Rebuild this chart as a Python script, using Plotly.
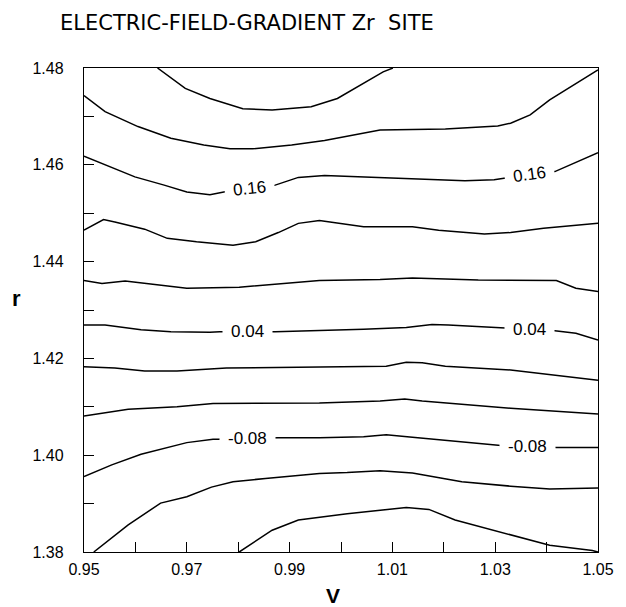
import plotly.graph_objects as go

# Contour levels of the electric-field gradient, top line to bottom line
levels = [0.24, 0.20, 0.16, 0.12, 0.08, 0.04, 0.00, -0.04, -0.08, -0.12, -0.16]

# Traced contour paths: volume ratio V and radius ratio r for each level
V_024 = [0.9643, 0.9697, 0.9745, 0.9809, 0.9866, 0.9942, 0.9993, 1.0050, 1.0082, 1.0101]
r_024 = [1.4800, 1.4758, 1.4737, 1.4716, 1.4713, 1.4720, 1.4737, 1.4772, 1.4792, 1.4800]

V_020 = [0.9500, 0.9541, 0.9605, 0.9669, 0.9733, 0.9784, 0.9828, 0.9904, 0.9968, 1.0076,
         1.0203, 1.0305, 1.0330, 1.0368, 1.0406, 1.0457, 1.0500]
r_020 = [1.4743, 1.4710, 1.4679, 1.4655, 1.4641, 1.4633, 1.4633, 1.4641, 1.4650, 1.4672,
         1.4674, 1.4680, 1.4686, 1.4703, 1.4734, 1.4768, 1.4796]

V_016 = [0.9500, 0.9541, 0.9599, 0.9656, 0.9700, 0.9745, 0.9777, 0.9872, 0.9917, 0.9968,
         1.0076, 1.0241, 1.0298, 1.0317, 1.0416, 1.0500]
r_016 = [1.4618, 1.4600, 1.4575, 1.4558, 1.4544, 1.4538, 1.4545, 1.4558, 1.4574, 1.4578,
         1.4574, 1.4567, 1.4569, 1.4572, 1.4586, 1.4625]

V_012 = [0.9500, 0.9538, 0.9560, 0.9618, 0.9662, 0.9719, 0.9790, 0.9834, 0.9878, 0.9917,
         0.9958, 1.0044, 1.0139, 1.0190, 1.0279, 1.0330, 1.0394, 1.0500]
r_012 = [1.4465, 1.4487, 1.4482, 1.4467, 1.4448, 1.4441, 1.4434, 1.4441, 1.4460, 1.4479,
         1.4485, 1.4472, 1.4472, 1.4465, 1.4457, 1.4460, 1.4469, 1.4479]

V_008 = [0.9500, 0.9535, 0.9580, 0.9700, 0.9802, 0.9958, 1.0076, 1.0139, 1.0267, 1.0419,
         1.0457, 1.0500]
r_008 = [1.4361, 1.4355, 1.4360, 1.4345, 1.4347, 1.4361, 1.4363, 1.4366, 1.4362, 1.4361,
         1.4345, 1.4338]

V_004 = [0.9500, 0.9541, 0.9611, 0.9669, 0.9745, 0.9764, 0.9872, 0.9958, 1.0044, 1.0127,
         1.0177, 1.0209, 1.0317, 1.0416, 1.0457, 1.0500]
r_004 = [1.4269, 1.4269, 1.4259, 1.4255, 1.4254, 1.4255, 1.4255, 1.4257, 1.4260, 1.4264,
         1.4270, 1.4269, 1.4262, 1.4257, 1.4252, 1.4238]

V_000 = [0.9500, 0.9560, 0.9618, 0.9681, 0.9777, 0.9958, 1.0088, 1.0127, 1.0158, 1.0203,
         1.0330, 1.0500]
r_000 = [1.4183, 1.4180, 1.4174, 1.4174, 1.4180, 1.4182, 1.4184, 1.4192, 1.4191, 1.4184,
         1.4176, 1.4155]

V_m004 = [0.9500, 0.9586, 0.9681, 0.9751, 0.9958, 1.0076, 1.0124, 1.0158, 1.0330, 1.0500]
r_m004 = [1.4081, 1.4095, 1.4100, 1.4107, 1.4108, 1.4112, 1.4116, 1.4112, 1.4097, 1.4085]

V_m008 = [0.9500, 0.9554, 0.9611, 0.9656, 0.9700, 0.9751, 0.9761, 0.9878, 0.9958, 1.0044,
          1.0088, 1.0139, 1.0235, 1.0311, 1.0419, 1.0500]
r_m008 = [1.3956, 1.3980, 1.4002, 1.4014, 1.4026, 1.4033, 1.4033, 1.4036, 1.4036, 1.4038,
          1.4042, 1.4037, 1.4028, 1.4020, 1.4016, 1.4016]

V_m012 = [0.9519, 0.9586, 0.9649, 0.9700, 0.9748, 0.9790, 0.9853, 0.9917, 0.9958, 1.0012,
          1.0076, 1.0139, 1.0235, 1.0330, 1.0406, 1.0500]
r_m012 = [1.3800, 1.3856, 1.3901, 1.3914, 1.3934, 1.3945, 1.3952, 1.3959, 1.3962, 1.3964,
          1.3968, 1.3963, 1.3945, 1.3936, 1.3930, 1.3932]

V_m016 = [0.9802, 0.9866, 0.9917, 0.9958, 1.0012, 1.0127, 1.0171, 1.0222, 1.0298, 1.0356,
          1.0406, 1.0489, 1.0500]
r_m016 = [1.3800, 1.3845, 1.3866, 1.3872, 1.3879, 1.3892, 1.3888, 1.3866, 1.3845, 1.3828,
          1.3814, 1.3803, 1.3800]

paths_V = [V_024, V_020, V_016, V_012, V_008, V_004, V_000, V_m004, V_m008, V_m012, V_m016]
paths_r = [r_024, r_020, r_016, r_012, r_008, r_004, r_000, r_m004, r_m008, r_m012, r_m016]

# In-line contour labels: level, position (V, r) and text angle
label_levels = [0.16, 0.16, 0.04, 0.04, -0.08, -0.08]
label_V = [0.9822, 1.0366, 0.9818, 1.0366, 0.9818, 1.0363]
label_r = [1.4552, 1.4580, 1.4256, 1.4259, 1.4035, 1.4018]
label_angle = [-6, -8, 0, 0, 0, 0]

x_ticks = [0.95, 0.97, 0.99, 1.01, 1.03, 1.05]
y_ticks = [1.38, 1.40, 1.42, 1.44, 1.46, 1.48]

fig = go.Figure()
for lev, vs, rs in zip(levels, paths_V, paths_r):
    fig.add_trace(go.Scatter(
        x=vs, y=rs, mode="lines", name=f"{lev:.2f}",
        line=dict(color="black", width=1.5),
        hoverinfo="name", showlegend=False,
    ))

# Labels sit on a white box that opens a gap in their contour line
for lev, v, r, ang in zip(label_levels, label_V, label_r, label_angle):
    fig.add_annotation(
        x=v, y=r, xref="x", yref="y", text=f"{lev:.2f}", showarrow=False,
        textangle=ang, bgcolor="white", borderpad=8,
        xanchor="center", yanchor="middle",
        font=dict(family="Liberation Sans, Arial, sans-serif", size=17, color="black"),
    )

fig.add_annotation(
    x=0.317, y=1.094, xref="paper", yref="paper", showarrow=False,
    xanchor="center", yanchor="middle",
    text="ELECTRIC-FIELD-GRADIENT Zr&nbsp;&nbsp;SITE",
    font=dict(family="DejaVu Sans, sans-serif", size=21, color="black"),
)
fig.add_annotation(
    x=-0.131, y=0.524, xref="paper", yref="paper", showarrow=False,
    xanchor="center", yanchor="middle",
    text="<b>r</b>",
    font=dict(family="Liberation Sans, Arial, sans-serif", size=22, color="black"),
)
fig.add_annotation(
    x=0.485, y=-0.089, xref="paper", yref="paper", showarrow=False,
    xanchor="center", yanchor="middle",
    text="<b>V</b>",
    font=dict(family="Liberation Sans, Arial, sans-serif", size=21, color="black"),
)

axis_font = dict(family="Liberation Sans, Arial, sans-serif", size=16, color="black")
fig.update_xaxes(
    range=[0.95, 1.05], tickvals=x_ticks, tickformat=".2f",
    ticks="inside", ticklen=10, tickwidth=1.2, tickcolor="black",
    minor=dict(dtick=0.01, tick0=0.95, ticks="inside", ticklen=10, tickwidth=1.2, tickcolor="black"),
    showline=True, linecolor="black", linewidth=1.4, mirror=True,
    showgrid=False, zeroline=False, tickfont=axis_font, ticklabelstandoff=3,
)
fig.update_yaxes(
    range=[1.38, 1.48], tickvals=y_ticks, tickformat=".2f",
    ticks="inside", ticklen=10, tickwidth=1.2, tickcolor="black",
    minor=dict(dtick=0.01, tick0=1.38, ticks="inside", ticklen=10, tickwidth=1.2, tickcolor="black"),
    showline=True, linecolor="black", linewidth=1.4, mirror=True,
    showgrid=False, zeroline=False, tickfont=axis_font, ticklabelstandoff=16,
)
fig.update_layout(
    width=626, height=607,
    margin=dict(l=84, r=18, t=68, b=55),
    paper_bgcolor="white", plot_bgcolor="white",
)
fig.write_html("out.html")
